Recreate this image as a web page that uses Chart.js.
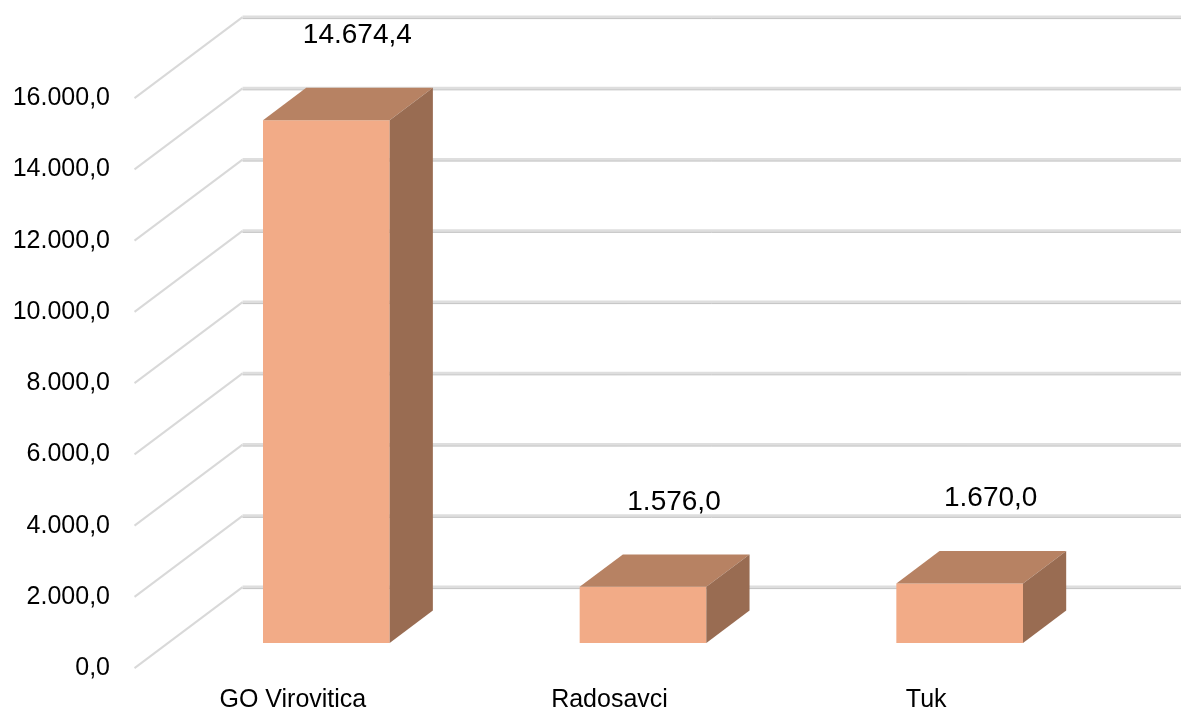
<!DOCTYPE html>
<html>
<head>
<meta charset="utf-8">
<script src="https://cdn.jsdelivr.net/npm/chart.js@4/dist/chart.umd.min.js"></script>
<style>
    html, body { margin: 0; padding: 0; background: #fff; }
    #wrap { width: 1181px; height: 708px; position: relative; }
</style>
</head>
<body>
<div id="wrap"><canvas id="mainChart"></canvas></div>
<script>
// Data
const categories = ["GO Virovitica", "Radosavci", "Tuk"];
const values = [14674.4, 1576.0, 1670.0];
const yTicks = [0, 2000, 4000, 6000, 8000, 10000, 12000, 14000, 16000];

// 3D look: full floor depth and where the bars sit inside it
const DEPTH_DX = 108;
const DEPTH_DY = -81;
const BAR_FRONT = 0.31;   // bar front plane, as share of the depth
const BAR_DEPTH = 0.40;   // bar thickness, as share of the depth

const FRONT_COLOR = "rgb(242,171,135)";
const TOP_COLOR = "rgb(183,130,99)";
const SIDE_COLOR = "rgb(153,108,82)";
const FONT = "'Liberation Sans', Arial, sans-serif";

// 16000 -> "16.000,0"
function fmt(v) {
    const parts = v.toFixed(1).split(".");
    const intPart = parts[0].replace(/\B(?=(\d{3})+(?!\d))/g, ".");
    return intPart + "," + parts[1];
}

const box3d = {
    id: "box3d",
    beforeDatasetsDraw(chart) {
        const ctx = chart.ctx;
        const y = chart.scales.y;
        const area = chart.chartArea;
        // offsets from the bar plane to the front edge and to the back wall
        const fx = -DEPTH_DX * BAR_FRONT, fy = -DEPTH_DY * BAR_FRONT;
        const bx = DEPTH_DX * (1 - BAR_FRONT), by = DEPTH_DY * (1 - BAR_FRONT);
        const left = area.left;

        ctx.save();
        yTicks.forEach(v => {
            const py = y.getPixelForValue(v);
            // back wall line
            ctx.strokeStyle = "#dedede";
            ctx.lineWidth = 3;
            ctx.beginPath();
            ctx.moveTo(left + bx, py + by);
            ctx.lineTo(chart.width, py + by);
            ctx.stroke();
            ctx.strokeStyle = "#c4c4c4";
            ctx.lineWidth = 1;
            ctx.beginPath();
            ctx.moveTo(left + bx, py + by + 1.5);
            ctx.lineTo(chart.width, py + by + 1.5);
            ctx.stroke();
            // side wall line
            ctx.strokeStyle = "#d9d9d9";
            ctx.lineWidth = 2;
            ctx.beginPath();
            ctx.moveTo(left + fx, py + fy);
            ctx.lineTo(left + bx, py + by);
            ctx.stroke();

            // tick label at the front edge
            ctx.fillStyle = "#000";
            ctx.font = "25px " + FONT;
            ctx.textAlign = "right";
            ctx.textBaseline = "middle";
            ctx.fillText(fmt(v), 110, py + fy);
        });

        // category labels along the front edge
        const x = chart.scales.x;
        ctx.font = "25px " + FONT;
        ctx.textAlign = "center";
        ctx.textBaseline = "alphabetic";
        categories.forEach((c, i) => {
            ctx.fillText(c, x.getPixelForValue(i) + fx, y.getPixelForValue(0) + fy + 39);
        });
        ctx.restore();
    },
    afterDatasetsDraw(chart) {
        const ctx = chart.ctx;
        const meta = chart.getDatasetMeta(0);
        const dx = DEPTH_DX * BAR_DEPTH, dy = DEPTH_DY * BAR_DEPTH;
        ctx.save();
        meta.data.forEach((bar, i) => {
            const p = bar.getProps(["x", "y", "base", "width"], true);
            const l = p.x - p.width / 2, r = p.x + p.width / 2;
            // top face
            ctx.fillStyle = TOP_COLOR;
            ctx.beginPath();
            ctx.moveTo(l, p.y);
            ctx.lineTo(r, p.y);
            ctx.lineTo(r + dx, p.y + dy);
            ctx.lineTo(l + dx, p.y + dy);
            ctx.closePath();
            ctx.fill();
            // right side face
            ctx.fillStyle = SIDE_COLOR;
            ctx.beginPath();
            ctx.moveTo(r, p.y);
            ctx.lineTo(r + dx, p.y + dy);
            ctx.lineTo(r + dx, p.base + dy);
            ctx.lineTo(r, p.base);
            ctx.closePath();
            ctx.fill();

            // value label
            ctx.fillStyle = "#000";
            ctx.font = "28px " + FONT;
            ctx.textAlign = "center";
            ctx.textBaseline = "middle";
            ctx.fillText(fmt(values[i]), p.x + 31, p.y - 85);
        });
        ctx.restore();
    }
};

const ctx = document.getElementById("mainChart").getContext("2d");
new Chart(ctx, {
    type: "bar",
    data: {
        labels: categories,
        datasets: [{
            data: values,
            backgroundColor: FRONT_COLOR,
            borderWidth: 0,
            categoryPercentage: 1,
            barPercentage: 0.4
        }]
    },
    options: {
        responsive: true,
        maintainAspectRatio: false,
        animation: false,
        layout: {
            padding: { left: 168, right: 63, top: 73, bottom: 65 }
        },
        plugins: {
            legend: { display: false },
            tooltip: { enabled: false }
        },
        scales: {
            x: { display: false },
            y: { display: false, min: 0, max: 16000 }
        }
    },
    plugins: [box3d]
});
</script>
</body>
</html>
